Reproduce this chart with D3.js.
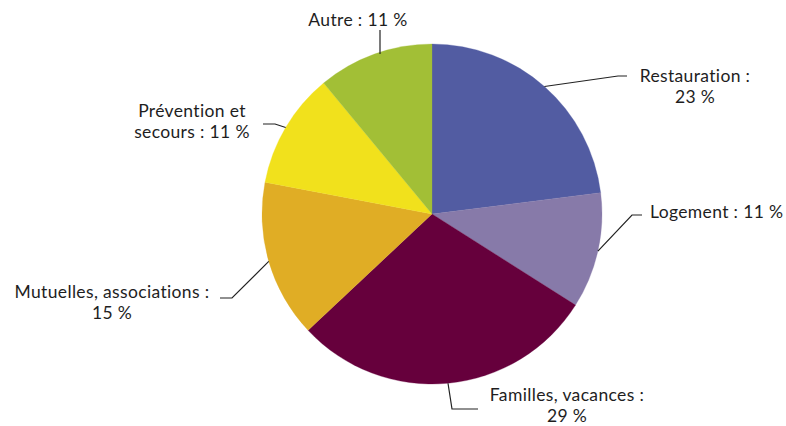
<!DOCTYPE html>
<html><head><meta charset="utf-8">
<script src="https://cdn.jsdelivr.net/npm/d3@7"></script>
<style>body{margin:0;background:#fff}svg{display:block}text{font-variant-ligatures:none}</style>
</head><body><svg id="c" width="786" height="426"></svg>
<script>
const categories = ["Restauration", "Logement", "Familles, vacances", "Mutuelles, associations", "Prévention et secours", "Autre"];
const values = [23, 11, 29, 15, 11, 11];
const colors = ["#525ca2", "#877aa9", "#66003c", "#e0ad25", "#f1e11c", "#a2bf36"];
const labelLines = [
  ["Restauration :", "23 %"],
  ["Logement : 11 %"],
  ["Familles, vacances :", "29 %"],
  ["Mutuelles, associations :", "15 %"],
  ["Prévention et", "secours : 11 %"],
  ["Autre : 11 %"]
];
// label layout: text anchor point, alignment, leader elbow/end
const labelLayout = [
  {x: 695, y: 82, anchor: "middle", pts: [[618, 76], [627, 76]]},
  {x: 650, y: 218, anchor: "start", pts: [[632, 215], [642, 215]]},
  {x: 567, y: 401, anchor: "middle", pts: [[452, 409], [478, 409]]},
  {x: 112, y: 298, anchor: "middle", pts: [[232, 298], [220, 298]]},
  {x: 192, y: 117, anchor: "middle", pts: [[275, 124], [263, 124]]},
  {x: 358, y: 26, anchor: "middle", pts: [[380, 30]]}
];

const cx = 432, cy = 214, R = 170;
const svg = d3.select("#c");
const g = svg.append("g").attr("transform", `translate(${cx},${cy})`);
const pie = d3.pie().sort(null).value(d => d)(values);
const arc = d3.arc().innerRadius(0).outerRadius(R);
g.selectAll("path.s").data(pie).join("path").attr("class", "s")
  .attr("d", arc).attr("fill", (d, i) => colors[i]).attr("stroke", (d, i) => colors[i]).attr("stroke-width", 0.3);

const line = d3.line();
pie.forEach((d, i) => {
  const a = (d.startAngle + d.endAngle) / 2;
  const start = [cx + R * Math.sin(a), cy - R * Math.cos(a)];
  const L = labelLayout[i];
  let pts = [start].concat(L.pts);
  if (i === 5) pts = [[L.pts[0][0], start[1]], L.pts[0]];
  svg.append("path").attr("d", line(pts)).attr("fill", "none").attr("stroke", "#222").attr("stroke-width", 1.2);
  const t = svg.append("text").attr("x", L.x).attr("y", L.y).attr("text-anchor", L.anchor)
    .attr("font-family", "Lato, sans-serif").attr("font-size", 17.5).attr("letter-spacing", 0.35).attr("fill", "#1e1e1e");
  labelLines[i].forEach((s, k) => t.append("tspan").attr("x", L.x).attr("dy", k === 0 ? 0 : 21).text(s));
});
</script></body></html>
